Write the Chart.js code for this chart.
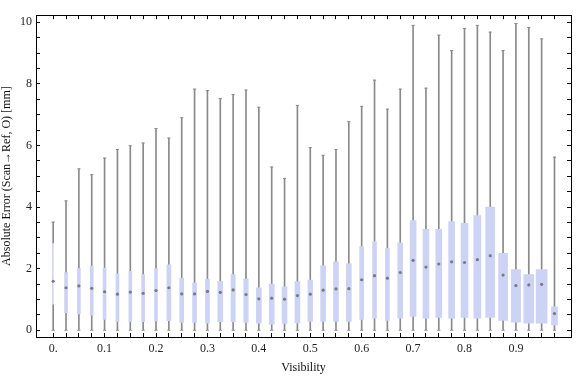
<!DOCTYPE html>
<html>
<head>
<meta charset="utf-8">
<script src="https://cdn.jsdelivr.net/npm/chart.js@4.4.0/dist/chart.umd.min.js"></script>
<style>
  html, body { margin: 0; padding: 0; background: #fff; }
  #wrap { width: 576px; height: 377px; }
</style>
</head>
<body>
<div id="wrap"><canvas id="chart_visibilityError"></canvas></div>
<script>
// one box per visibility bin
var visibility = [0, 0.025, 0.05, 0.075, 0.1, 0.125, 0.15, 0.175, 0.2, 0.225,
                  0.25, 0.275, 0.3, 0.325, 0.35, 0.375, 0.4, 0.425, 0.45, 0.475,
                  0.5, 0.525, 0.55, 0.575, 0.6, 0.625, 0.65, 0.675, 0.7, 0.725,
                  0.75, 0.775, 0.8, 0.825, 0.85, 0.875, 0.9, 0.925, 0.95, 0.975];
var whiskerLow = [0, 0, 0, 0, 0, 0, 0, 0, 0, 0,
                  0, 0, 0, 0, 0, 0, 0, 0, 0, 0,
                  0, 0, 0, 0, 0, 0, 0, 0, 0, 0,
                  0, 0, 0, 0, 0, 0, 0, 0, 0, 0];
var whiskerHigh = [3.51, 4.20, 5.24, 5.05, 5.59, 5.87, 5.99, 6.08, 6.55, 6.24,
                   6.90, 7.83, 7.78, 7.52, 7.65, 7.80, 7.24, 5.30, 4.93, 7.30,
                   5.93, 5.68, 5.87, 6.77, 7.27, 8.12, 7.18, 7.83, 9.90, 7.86,
                   9.58, 9.08, 9.80, 9.90, 9.68, 9.08, 9.96, 9.83, 9.46, 5.62];
var quartile1 = [0.85, 0.57, 0.53, 0.49, 0.35, 0.29, 0.28, 0.28, 0.30, 0.31,
                 0.25, 0.25, 0.23, 0.28, 0.28, 0.25, 0.23, 0.20, 0.22, 0.24,
                 0.29, 0.29, 0.29, 0.29, 0.35, 0.39, 0.32, 0.39, 0.45, 0.39,
                 0.42, 0.39, 0.42, 0.39, 0.42, 0.32, 0.26, 0.23, 0.23, 0.17];
var quartile3 = [2.81, 1.875, 2.00, 2.08, 2.02, 1.83, 1.91, 1.81, 2.00, 2.125,
                 1.69, 1.53, 1.66, 1.59, 1.81, 1.66, 1.375, 1.50, 1.41, 1.58,
                 1.625, 2.09, 2.22, 2.16, 2.72, 2.875, 2.66, 2.84, 3.56, 3.28,
                 3.28, 3.53, 3.47, 3.72, 4.00, 2.50, 1.97, 1.81, 1.97, 0.76];
var medianError = [1.59, 1.38, 1.44, 1.36, 1.25, 1.17, 1.24, 1.20, 1.29, 1.38,
                   1.18, 1.18, 1.26, 1.23, 1.31, 1.16, 1.02, 1.04, 1.01, 1.125,
                   1.17, 1.30, 1.34, 1.35, 1.64, 1.77, 1.69, 1.875, 2.27, 2.05,
                   2.15, 2.22, 2.20, 2.29, 2.42, 1.79, 1.45, 1.47, 1.49, 0.54];
// relative sample weight of each bin (drives box width)
var boxWeight = [1, 3, 3, 3, 3, 3, 3, 3, 3, 4,
                 4, 4, 4, 5, 4.3, 4.5, 5, 5, 5, 5,
                 4.7, 5, 5, 5, 4, 4, 4, 5, 6, 6,
                 6, 6, 7, 7, 9, 9, 9.3, 10, 11, 6];
var xTickLabels = ['0.', '0.1', '0.2', '0.3', '0.4', '0.5', '0.6', '0.7', '0.8', '0.9'];
var yTickLabels = ['0', '2', '4', '6', '8', '10'];

var serif = { family: "'Liberation Serif', 'DejaVu Serif', serif", size: 12 };
var whiskerGray = '#8a8a8a';
var boxFill = '#cdd3f5';

function pts(ys) {
    return visibility.map(function (v, i) { return { x: v, y: ys[i] }; });
}

var datasets = [{
    type: 'scatter',
    label: 'median',
    data: pts(medianError),
    pointStyle: 'circle',
    pointRadius: 1.6,
    pointBackgroundColor: '#7a7a82',
    pointBorderWidth: 0,
    order: 0
}];

// a dataset per box so each one gets its own width
visibility.forEach(function (v, i) {
    datasets.push({
        type: 'bar',
        label: 'box ' + v,
        data: [{ x: v, y: [quartile1[i], quartile3[i]] }],
        backgroundColor: i === 0 ? '#e2e6fa' : boxFill,
        borderWidth: 0,
        barThickness: boxWeight[i],
        grouped: false,
        order: 1
    });
});

datasets.push({
    type: 'bar',
    label: 'whisker',
    data: visibility.map(function (v, i) { return { x: v, y: [whiskerLow[i], whiskerHigh[i]] }; }),
    backgroundColor: whiskerGray,
    borderWidth: 0,
    barThickness: 1,
    grouped: false,
    order: 2
}, {
    type: 'scatter',
    label: 'cap high',
    data: pts(whiskerHigh),
    pointStyle: 'line',
    pointRadius: 1.6,
    pointBorderColor: whiskerGray,
    pointBorderWidth: 1,
    order: 2
}, {
    type: 'scatter',
    label: 'cap low',
    data: pts(whiskerLow),
    pointStyle: 'line',
    pointRadius: 1.6,
    pointBorderColor: whiskerGray,
    pointBorderWidth: 1,
    order: 2
});

var xRange = { min: -0.0334, max: 1.0071 };
var yRange = { min: -0.2196, max: 10.229 };

function xTicks(scale) {
    scale.ticks = visibility.map(function (v) { return { value: v }; });
}
function yTicks(scale) {
    var t = [];
    for (var i = 0; i <= 20; i++) t.push({ value: i / 2 });
    scale.ticks = t;
}
var frameGrid = { drawOnChartArea: false, offset: false, tickLength: -4, tickColor: '#000', tickWidth: 1 };
var frameBorder = { display: true, color: '#000', width: 1 };

var chart_visibilityError = new Chart(document.getElementById('chart_visibilityError'), {
    type: 'bar',
    data: { datasets: datasets },
    options: {
        animation: false,
        responsive: true,
        maintainAspectRatio: false,
        layout: { padding: 0 },
        plugins: {
            legend: { display: false },
            tooltip: { enabled: false }
        },
        scales: {
            x: {
                type: 'linear', position: 'bottom', offset: false,
                min: xRange.min, max: xRange.max,
                grid: frameGrid, border: frameBorder,
                afterBuildTicks: xTicks,
                afterFit: function (s) { s.height = 40; },
                ticks: {
                    autoSkip: false, maxRotation: 0, minRotation: 0, padding: 9,
                    color: '#222', font: serif,
                    callback: function (value, index) {
                        return index % 4 === 0 ? xTickLabels[index / 4] : '';
                    }
                },
                title: { display: true, text: 'Visibility', color: '#111', font: serif, padding: { top: 0, bottom: 2 } }
            },
            xTop: {
                type: 'linear', position: 'top', offset: false,
                min: xRange.min, max: xRange.max,
                grid: frameGrid, border: frameBorder,
                afterBuildTicks: xTicks,
                afterFit: function (s) { s.height = 4; },
                ticks: { display: false }
            },
            y: {
                type: 'linear', position: 'left',
                min: yRange.min, max: yRange.max,
                grid: frameGrid, border: frameBorder,
                afterBuildTicks: yTicks,
                afterFit: function (s) { s.width = 36; },
                ticks: {
                    autoSkip: false, padding: 8, color: '#222', font: serif,
                    callback: function (value) {
                        return value % 2 === 0 ? yTickLabels[value / 2] : '';
                    }
                },
                title: { display: true, text: 'Absolute Error (Scan\u2192Ref, O) [mm]', color: '#111', font: serif, padding: 0 }
            },
            yRight: {
                type: 'linear', position: 'right',
                min: yRange.min, max: yRange.max,
                grid: frameGrid, border: frameBorder,
                afterBuildTicks: yTicks,
                afterFit: function (s) { s.width = 1; },
                ticks: { display: false }
            }
        }
    },
    plugins: [{
        id: 'whiteBackground',
        beforeDraw: function (chart) {
            var ctx = chart.canvas.getContext('2d');
            ctx.save();
            ctx.globalCompositeOperation = 'destination-over';
            ctx.fillStyle = 'white';
            ctx.fillRect(0, 0, chart.canvas.width, chart.canvas.height);
            ctx.restore();
        }
    }]
});
</script>
</body>
</html>
